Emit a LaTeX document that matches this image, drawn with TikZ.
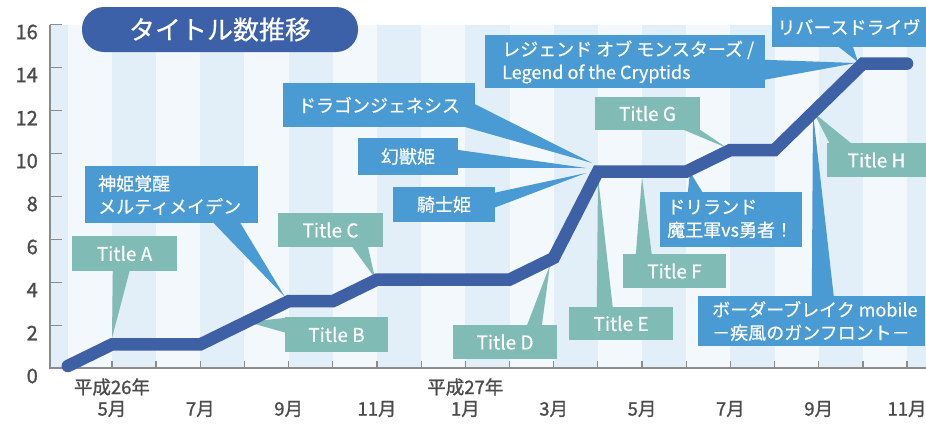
\documentclass[tikz,border=0pt]{standalone}
\usepackage{fontspec}
\setmainfont{Noto Sans CJK JP}
\newfontfamily\labfont[FakeBold=1.2]{Noto Sans CJK JP}
\newfontfamily\callfont[FakeBold=0.5]{Noto Sans CJK JP}
\usetikzlibrary{calc}
\definecolor{lineblue}{RGB}{62,97,166}
\definecolor{titleblue}{RGB}{60,97,168}
\definecolor{callblue}{RGB}{74,154,212}
\definecolor{callteal}{RGB}{128,188,181}
\definecolor{stripeA}{RGB}{226,239,248}
\definecolor{stripeB}{RGB}{243,248,252}
\definecolor{axisgray}{RGB}{140,140,140}
\definecolor{labelgray}{RGB}{75,75,75}
\begin{document}
\begin{tikzpicture}[x=1pt,y=-1pt,
  tealbox/.style={fill=callteal, text=white, inner sep=0pt, font=\callfont\fontsize{19}{23}\selectfont},
  bluebox/.style={fill=callblue, text=white, inner sep=0pt, font=\callfont\fontsize{18}{23}\selectfont},
  boxtext/.style={text=white, inner sep=0pt, align=left, anchor=west, font=\callfont\fontsize{18}{23}\selectfont},
  ylab/.style={text=labelgray, inner sep=0pt, anchor=east, font=\labfont\fontsize{20}{20}\selectfont},
  mlab/.style={text=labelgray, inner sep=0pt, font=\labfont\fontsize{18.5}{18.5}\selectfont},
  axisline/.style={draw=axisgray, line width=1.3pt},
  series/.style={draw=lineblue, line width=12.5pt, line cap=round, line join=miter}]
\useasboundingbox (0,0) rectangle (926,424);
% background stripes
\fill[stripeB] (50,25) rectangle (926,368);
\fill[stripeA] (50,25) rectangle (67.8,368);
\foreach \k in {1,3,...,19}{
  \fill[stripeA] ({67.8+44.17*\k},25) rectangle ({min(926,67.8+44.17*(\k+1))},368);
}
% axes
\draw[axisline] (50,25) -- (50,368) -- (926,368);
\foreach \v in {0,2,...,16}{
  \draw[axisline] (50,{368.5-21.5*\v}) -- (62,{368.5-21.5*\v});
  \node[ylab] (y\v) at (38,{376-21.5*\v}) {\v};
}
\foreach \m in {1,...,19}{
  \draw[axisline] ({67.8+44.17*\m},368) -- ({67.8+44.17*\m},361);
}
\foreach \m/\t in {1/5月,3/7月,5/9月,7/11月,9/1月,11/3月,13/5月,15/7月,17/9月,19/11月}{
  \node[mlab] (m\m) at ({67.8+44.17*\m},409) {\t};
}
\node[mlab] (era26) at ({67.8+44.17},387) {平成26年};
\node[mlab] (era27) at ({67.8+44.17*9},387) {平成27年};
% title banner
\node[fill=titleblue, rounded corners=22pt, minimum width=276, minimum height=45, inner sep=0pt,
  text=white, font=\callfont\fontsize{26}{26}\selectfont] (banner) at (220,29.5) {タイトル数推移};
% data points
\coordinate (p0) at ({67.8},{366});
\coordinate (p1) at ({67.8+44.17*1},{366-21.6*1});
\coordinate (p2) at ({67.8+44.17*3},{366-21.6*1});
\coordinate (p3) at ({67.8+44.17*5},{366-21.6*3});
\coordinate (p4) at ({67.8+44.17*6},{366-21.6*3});
\coordinate (p5) at ({67.8+44.17*7},{366-21.6*4});
\coordinate (p6) at ({67.8+44.17*10},{366-21.6*4});
\coordinate (p7) at ({67.8+44.17*11},{366-21.6*5});
\coordinate (p8) at ({67.8+44.17*12},{366-21.6*9});
\coordinate (p9) at ({67.8+44.17*14},{366-21.6*9});
\coordinate (p10) at ({67.8+44.17*15},{366-21.6*10});
\coordinate (p11) at ({67.8+44.17*16},{366-21.6*10});
\coordinate (p12) at ({67.8+44.17*18},{366-21.6*14});
\coordinate (p13) at ({67.8+44.17*19},{366-21.6*14});
% wedge tips
\coordinate (tA) at (112,338);
\coordinate (tB) at (248,322);
\coordinate (tC) at (375,278);
\coordinate (tD) at (550,265);
\coordinate (tE) at (598,177);
\coordinate (tF) at (642,177);
\coordinate (tG) at (727,148);
\coordinate (tH) at (814,113);
\coordinate (tLeg) at (856,63);
\coordinate (tRev) at (858,62);
\coordinate (tDrg) at (592,163);
\coordinate (tGen) at (586,168);
\coordinate (tKis) at (586,173);
\coordinate (tShin) at (285,297);
\coordinate (tDri) at (690,172);
\coordinate (tBor) at (813,113);
% boxes
\node[tealbox, minimum width=105, minimum height=35] (bA) at (124.5,253.5) {Title A};
\node[tealbox, minimum width=103, minimum height=35] (bB) at (336.5,334.5) {Title B};
\node[tealbox, minimum width=105, minimum height=34] (bC) at (330.5,230) {Title C};
\node[tealbox, minimum width=104, minimum height=34] (bD) at (505,342) {Title D};
\node[tealbox, minimum width=104, minimum height=33] (bE) at (621,323.5) {Title E};
\node[tealbox, minimum width=103, minimum height=34] (bF) at (674.5,271) {Title F};
\node[tealbox, minimum width=105, minimum height=33] (bG) at (647.5,113.5) {Title G};
\node[tealbox, minimum width=99, minimum height=34] (bH) at (876.5,160) {Title H};
\node[bluebox, minimum width=280, minimum height=53] (bLeg) at (625,61.5) {};
\node[bluebox, minimum width=154, minimum height=40] (bRev) at (849,27) {リバースドライヴ};
\node[bluebox, minimum width=192, minimum height=44] (bDrg) at (379,105) {ドラゴンジェネシス};
\node[bluebox, minimum width=100, minimum height=37] (bGen) at (408,156.5) {幻獣姫};
\node[bluebox, minimum width=102, minimum height=35] (bKis) at (444,204.5) {騎士姫};
\node[bluebox, minimum width=173, minimum height=57] (bShin) at (171.5,194.5) {};
\node[bluebox, minimum width=142, minimum height=55] (bDri) at (731,219.5) {};
\node[bluebox, minimum width=227, minimum height=50] (bBor) at (811.5,321) {};
% wedges
\fill[callteal] ($(bA.south west)+(41,-1)$) -- ($(bA.south west)+(58,-1)$) -- (tA) -- cycle;
\fill[callteal] ($(bB.north west)+(1,1)$) -- ($(bB.north west)+(1,16)$) -- (tB) -- cycle;
\fill[callteal] ($(bC.south west)+(74,-1)$) -- ($(bC.south west)+(90,-1)$) -- (tC) -- cycle;
\fill[callteal] ($(bD.north west)+(74,1)$) -- ($(bD.north west)+(89,1)$) -- (tD) -- cycle;
\fill[callteal] ($(bE.north west)+(28,1)$) -- ($(bE.north west)+(44,1)$) -- (tE) -- cycle;
\fill[callteal] ($(bF.north west)+(13,1)$) -- ($(bF.north west)+(29,1)$) -- (tF) -- cycle;
\fill[callteal] ($(bG.south east)+(-18,-1)$) -- ($(bG.south east)+(-1,-1)$) -- (tG) -- cycle;
\fill[callteal] ($(bH.north west)+(3,1)$) -- ($(bH.north west)+(25,1)$) -- (tH) -- cycle;
\fill[callblue] ($(bLeg.north east)+(-1,25)$) -- ($(bLeg.north east)+(-1,45)$) -- (tLeg) -- cycle;
\fill[callblue] ($(bRev.south west)+(66,-1)$) -- ($(bRev.south west)+(81,-1)$) -- (tRev) -- cycle;
\fill[callblue] ($(bDrg.north east)+(-1,21)$) -- ($(bDrg.south east)+(-13,-1)$) -- (tDrg) -- cycle;
\fill[callblue] ($(bGen.north east)+(-1,12)$) -- ($(bGen.north east)+(-1,30)$) -- (tGen) -- cycle;
\fill[callblue] ($(bKis.north east)+(-1,6)$) -- ($(bKis.north east)+(-1,21)$) -- (tKis) -- cycle;
\fill[callblue] ($(bShin.south west)+(128,-1)$) -- ($(bShin.south west)+(155,-1)$) -- (tShin) -- cycle;
\fill[callblue] ($(bDri.north west)+(28,1)$) -- ($(bDri.north west)+(43,1)$) -- (tDri) -- cycle;
\fill[callblue] ($(bBor.north west)+(114,1)$) -- ($(bBor.north west)+(136,1)$) -- (tBor) -- cycle;
% series line
\draw[series] (p0) -- (p1) -- (p2) -- (p3) -- (p4) -- (p5) -- (p6) -- (p7) -- (p8) -- (p9) -- (p10) -- (p11) -- (p12) -- (p13);
% multi-line texts
\node[boxtext] (xLeg) at (502,62) {レジェンド オブ モンスターズ /\\Legend of the Cryptids};
\node[boxtext] (xShin) at (98,195) {神姫覚醒\\メルティメイデン};
\node[boxtext] (xDri) at (667,219) {ドリランド\\魔王軍vs勇者！};
\node[boxtext] (xBor) at (712,321) {ボーダーブレイク mobile\\－疾風のガンフロント－};
\end{tikzpicture}
\end{document}
